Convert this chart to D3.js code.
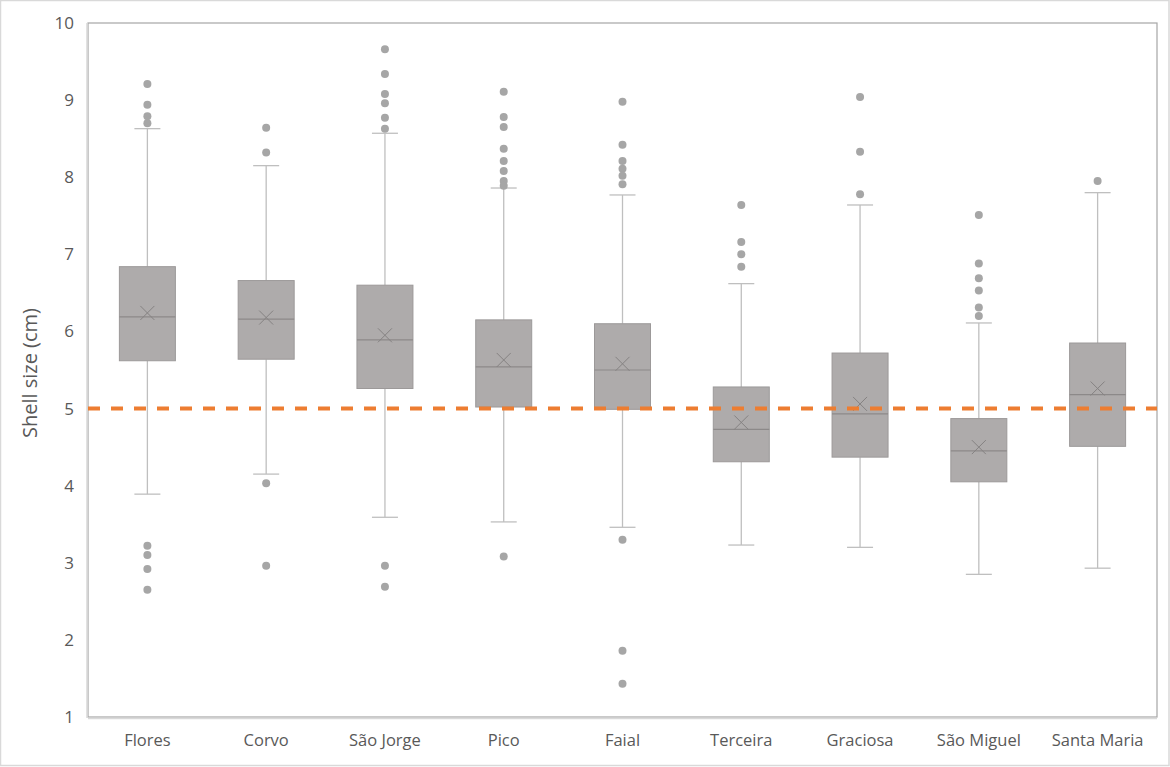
<!DOCTYPE html>
<html>
<head>
<meta charset="utf-8">
<script src="https://cdn.jsdelivr.net/npm/d3@7"></script>
<style>
  html, body { margin: 0; padding: 0; background: #fff; }
  svg { display: block; }
</style>
</head>
<body>
<svg id="chart" width="1170" height="767"></svg>
<script>
const categories = ["Flores", "Corvo", "São Jorge", "Pico", "Faial", "Terceira", "Graciosa", "São Miguel", "Santa Maria"];
const q1Values     = [5.62, 5.64, 5.26, 5.02, 4.99, 4.31, 4.37, 4.05, 4.51];
const medianValues = [6.19, 6.16, 5.89, 5.54, 5.50, 4.73, 4.93, 4.45, 5.18];
const q3Values     = [6.84, 6.66, 6.60, 6.15, 6.10, 5.28, 5.72, 4.87, 5.85];
const meanValues   = [6.24, 6.18, 5.95, 5.63, 5.58, 4.82, 5.06, 4.50, 5.26];
const whiskerLow   = [3.89, 4.15, 3.59, 3.53, 3.46, 3.23, 3.20, 2.85, 2.93];
const whiskerHigh  = [8.63, 8.15, 8.57, 7.86, 7.77, 6.62, 7.64, 6.11, 7.80];
const outlierValues = [
  [9.21, 8.94, 8.79, 8.70, 3.22, 3.10, 2.92, 2.65],
  [8.64, 8.32, 4.03, 2.96],
  [9.66, 9.34, 9.08, 8.96, 8.77, 8.63, 2.96, 2.69],
  [9.11, 8.78, 8.65, 8.37, 8.21, 8.08, 7.95, 7.89, 3.08],
  [8.98, 8.42, 8.21, 8.11, 8.02, 7.91, 3.30, 1.86, 1.43],
  [7.64, 7.16, 7.00, 6.84],
  [9.04, 8.33, 7.78],
  [7.51, 6.88, 6.69, 6.53, 6.31, 6.20],
  [7.95]
];
const yTicks = [1, 2, 3, 4, 5, 6, 7, 8, 9, 10];
const referenceValue = 5;
const yTitle = "Shell size (cm)";

const svg = d3.select("#chart");
const W = 1170, H = 767;
const plot = { left: 88, right: 1157, top: 23, bottom: 717 };
const font = "'Open Sans', 'Liberation Sans', sans-serif";

// outer border
svg.append("rect").attr("x", 0.5).attr("y", 0.5).attr("width", W - 1.5).attr("height", H - 2)
  .attr("fill", "#fff").attr("stroke", "#d9d9d9").attr("stroke-width", 1.5);

const x = d3.scaleBand().domain(categories).range([plot.left, plot.right]).paddingInner(0).paddingOuter(0);
const y = d3.scaleLinear().domain([1, 10]).range([plot.bottom, plot.top]);

// plot frame
svg.append("rect").attr("x", plot.left).attr("y", plot.top)
  .attr("width", plot.right - plot.left).attr("height", plot.bottom - plot.top)
  .attr("fill", "none").attr("stroke", "#a6a6a6").attr("stroke-width", 1.2);
svg.append("line").attr("x1", plot.left - 1).attr("x2", plot.left - 1).attr("y1", plot.top).attr("y2", plot.bottom + 1)
  .attr("stroke", "#d9d9d9").attr("stroke-width", 1.5);
svg.append("line").attr("x1", plot.left).attr("x2", plot.right).attr("y1", plot.bottom + 1.5).attr("y2", plot.bottom + 1.5)
  .attr("stroke", "#d9d9d9").attr("stroke-width", 1.5);

// y axis
const yAxis = svg.append("g").attr("transform", `translate(${plot.left},0)`)
  .call(d3.axisLeft(y).tickValues(yTicks).tickSize(0).tickPadding(14).tickFormat(d3.format("d")));
yAxis.select(".domain").remove();
yAxis.selectAll("text").attr("font-family", font).attr("font-size", 17).attr("fill", "#595959");

// x axis
const xAxis = svg.append("g").attr("transform", `translate(0,${plot.bottom})`)
  .call(d3.axisBottom(x).tickSize(0).tickPadding(17));
xAxis.select(".domain").remove();
xAxis.selectAll("text").attr("font-family", font).attr("font-size", 16.5).attr("fill", "#595959");

// y title
svg.append("text").attr("transform", `translate(37,${(plot.top + plot.bottom) / 2 + 3}) rotate(-90)`)
  .attr("text-anchor", "middle").attr("font-family", font).attr("font-size", 20).attr("fill", "#595959")
  .text(yTitle);

const boxW = 56, capW = 13;
const stats = categories.map((c, i) => ({
  c, q1: q1Values[i], med: medianValues[i], q3: q3Values[i], mean: meanValues[i],
  lo: whiskerLow[i], hi: whiskerHigh[i], out: outlierValues[i],
  cx: x(c) + x.bandwidth() / 2
}));

const g = svg.append("g");
const whiskerColor = "#bfbfbf";
stats.forEach(s => {
  // whiskers
  g.append("line").attr("x1", s.cx).attr("x2", s.cx).attr("y1", y(s.hi)).attr("y2", y(s.q3))
    .attr("stroke", whiskerColor).attr("stroke-width", 1.3);
  g.append("line").attr("x1", s.cx).attr("x2", s.cx).attr("y1", y(s.q1)).attr("y2", y(s.lo))
    .attr("stroke", whiskerColor).attr("stroke-width", 1.3);
  g.append("line").attr("x1", s.cx - capW).attr("x2", s.cx + capW).attr("y1", y(s.hi)).attr("y2", y(s.hi))
    .attr("stroke", whiskerColor).attr("stroke-width", 1.3);
  g.append("line").attr("x1", s.cx - capW).attr("x2", s.cx + capW).attr("y1", y(s.lo)).attr("y2", y(s.lo))
    .attr("stroke", whiskerColor).attr("stroke-width", 1.3);
  // box
  g.append("rect").attr("x", s.cx - boxW / 2).attr("y", y(s.q3)).attr("width", boxW).attr("height", y(s.q1) - y(s.q3))
    .attr("fill", "#aeabab").attr("stroke", "#9c9999").attr("stroke-width", 1);
  // median
  g.append("line").attr("x1", s.cx - boxW / 2).attr("x2", s.cx + boxW / 2).attr("y1", y(s.med)).attr("y2", y(s.med))
    .attr("stroke", "#8c8989").attr("stroke-width", 1.2);
  // mean X
  const m = 7, my = y(s.mean);
  g.append("path").attr("d", `M${s.cx - m},${my - m}L${s.cx + m},${my + m}M${s.cx - m},${my + m}L${s.cx + m},${my - m}`)
    .attr("stroke", "#858282").attr("stroke-width", 1).attr("fill", "none");
  // outliers
  g.selectAll(null).data(s.out).enter().append("circle")
    .attr("cx", s.cx).attr("cy", d => y(d)).attr("r", 4)
    .attr("fill", "#a6a6a6");
});

// reference dashed line
svg.append("line").attr("x1", plot.left).attr("x2", plot.right)
  .attr("y1", y(referenceValue)).attr("y2", y(referenceValue))
  .attr("stroke", "#ed7d31").attr("stroke-width", 4).attr("stroke-dasharray", "12,11");
</script>
</body>
</html>
